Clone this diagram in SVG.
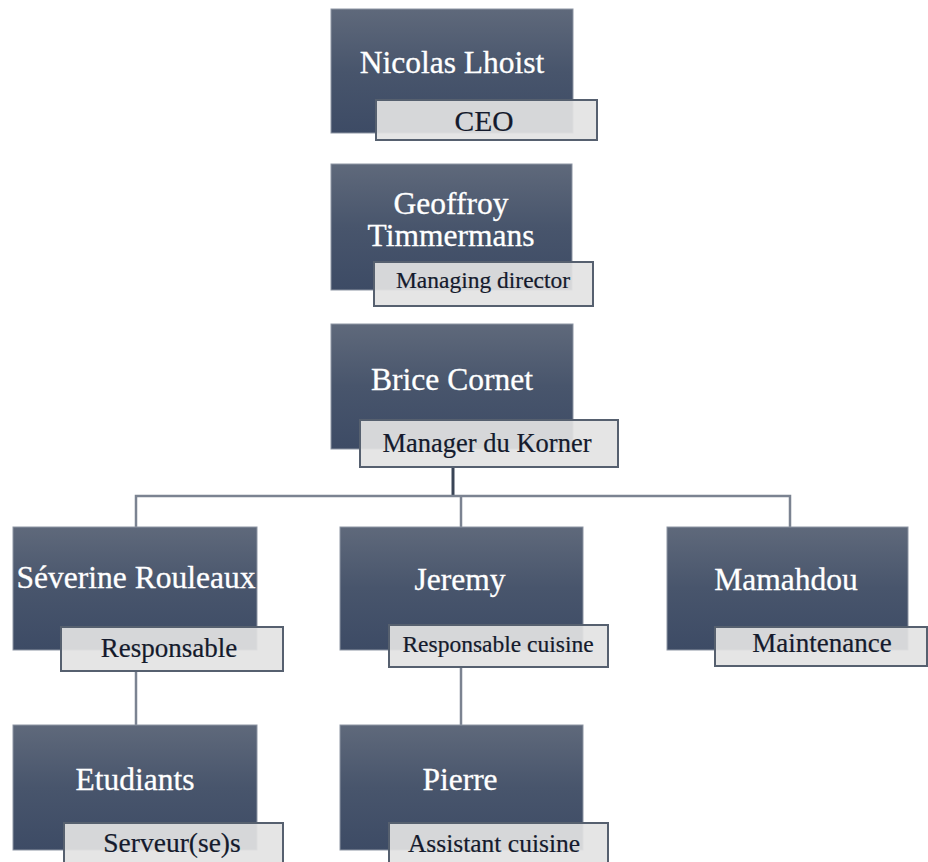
<svg xmlns="http://www.w3.org/2000/svg" width="928" height="862" viewBox="0 0 928 862">
<defs>
<linearGradient id="g" x1="0" y1="0" x2="0" y2="1">
<stop offset="0" stop-color="#5f697b"/>
<stop offset="0.5" stop-color="#48556c"/>
<stop offset="1" stop-color="#3d4b65"/>
</linearGradient>
</defs>
<style>
.box{fill:url(#g);stroke:#8d95a3;stroke-width:1}
.lab{fill:#e3e3e3;fill-opacity:0.92;stroke:#56606f;stroke-width:2}
text{font-family:'Liberation Serif','DejaVu Serif',serif}
.name{font-size:31.5px;fill:#ffffff;text-anchor:middle;stroke:#ffffff;stroke-width:0.3}
.role{fill:#141a2c;text-anchor:middle;stroke:#141a2c;stroke-width:0.2}
.ln{fill:none;stroke:#7b8391;stroke-width:2.5}
.lnd{fill:none;stroke:#3a4557;stroke-width:3}
</style>
<rect width="928" height="862" fill="#ffffff"/>
<g id="connectors">
<path class="lnd" d="M453,467 V496"/>
<path class="ln" d="M136,527 V496 H790 V527 M461,496 V527"/>
<path class="ln" d="M136,671 V725"/>
<path class="ln" d="M461,667 V725"/>
</g>
<g id="node-ceo">
<rect class="box" x="331" y="9" width="242" height="124"/>
<text class="name" x="452" y="73">Nicolas Lhoist</text>
<rect class="lab" x="376" y="100" width="221" height="40"/>
<text class="role" x="484" y="131" font-size="29.5">CEO</text>
</g>
<g id="node-md">
<rect class="box" x="331" y="164" width="241" height="126"/>
<text class="name" x="451" y="214">Geoffroy</text>
<text class="name" x="451" y="246">Timmermans</text>
<rect class="lab" x="374" y="262" width="219" height="44"/>
<text class="role" x="483" y="288" font-size="23.5">Managing director</text>
</g>
<g id="node-manager">
<rect class="box" x="331" y="324" width="242" height="125"/>
<text class="name" x="452" y="390">Brice Cornet</text>
<rect class="lab" x="360" y="420" width="258" height="47"/>
<text class="role" x="487" y="452" font-size="26.5">Manager du Korner</text>
</g>
<g id="node-severine">
<rect class="box" x="13" y="527" width="244" height="123"/>
<text class="name" x="136" y="588">Séverine Rouleaux</text>
<rect class="lab" x="61" y="627" width="222" height="44"/>
<text class="role" x="169" y="657" font-size="27">Responsable</text>
</g>
<g id="node-jeremy">
<rect class="box" x="340" y="527" width="243" height="123"/>
<text class="name" x="460" y="590">Jeremy</text>
<rect class="lab" x="389" y="625" width="219" height="42"/>
<text class="role" x="498" y="652" font-size="23.5">Responsable cuisine</text>
</g>
<g id="node-mamahdou">
<rect class="box" x="667" y="527" width="241" height="123"/>
<text class="name" x="786" y="590">Mamahdou</text>
<rect class="lab" x="715" y="627" width="212" height="39"/>
<text class="role" x="822" y="652" font-size="27">Maintenance</text>
</g>
<g id="node-etudiants">
<rect class="box" x="13" y="725" width="244" height="125"/>
<text class="name" x="135" y="790">Etudiants</text>
<rect class="lab" x="64" y="823" width="219" height="45"/>
<text class="role" x="172" y="852" font-size="27.5">Serveur(se)s</text>
</g>
<g id="node-pierre">
<rect class="box" x="340" y="725" width="243" height="125"/>
<text class="name" x="460" y="790">Pierre</text>
<rect class="lab" x="389" y="823" width="219" height="45"/>
<text class="role" x="494" y="852" font-size="25.5">Assistant cuisine</text>
</g>
</svg>
